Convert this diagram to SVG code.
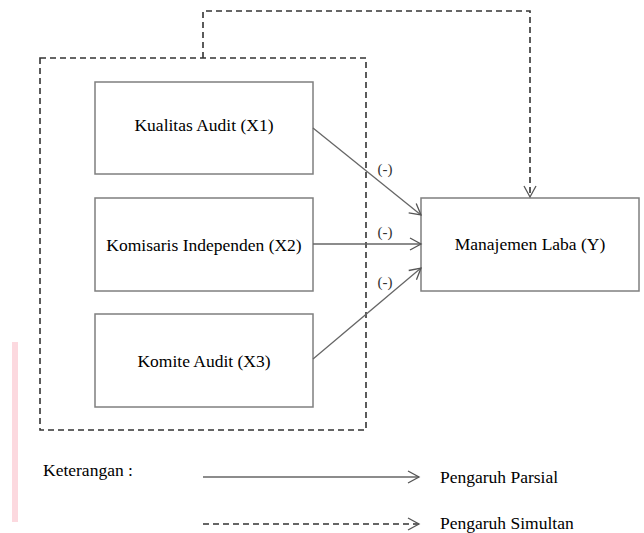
<svg xmlns="http://www.w3.org/2000/svg" width="644" height="533" viewBox="0 0 644 533">
<style>
.box{fill:#fff;stroke:#7f7f7f;stroke-width:1.5}
.lbl{font-family:'Liberation Serif','Times New Roman',Times,'DejaVu Serif',serif;font-size:17.5px;fill:#000}
.sign{font-family:'Liberation Serif','Times New Roman',Times,'DejaVu Serif',serif;font-size:15px;fill:#333}
.solid{fill:none;stroke:#666;stroke-width:1.3}
.dash{fill:none;stroke:#333;stroke-width:1.6;stroke-dasharray:6 4}
</style>
<defs>
<marker id="arr" markerUnits="userSpaceOnUse" markerWidth="14" markerHeight="14" viewBox="-12 -7 14 14" refX="0" refY="0" orient="auto">
<path d="M-11,-6 L0,0 L-11,6" fill="none" stroke="#555" stroke-width="1.3"/>
</marker>
</defs>
<rect x="12" y="342" width="6" height="180" fill="#fcd9df"/>
<g id="group-x">
<rect x="40" y="58" width="326" height="372" class="dash"/>
</g>
<g id="x1">
<rect class="box" x="95" y="82" width="218" height="92"/>
<text class="lbl" x="204" y="131" text-anchor="middle">Kualitas Audit (X1)</text>
</g>
<g id="x2">
<rect class="box" x="95" y="198" width="218" height="93"/>
<text class="lbl" x="204" y="251" text-anchor="middle">Komisaris Independen (X2)</text>
</g>
<g id="x3">
<rect class="box" x="95" y="314" width="218" height="93"/>
<text class="lbl" x="204" y="367" text-anchor="middle">Komite Audit (X3)</text>
</g>
<g id="y">
<rect class="box" x="421" y="198" width="218" height="93"/>
<text class="lbl" x="530" y="250" text-anchor="middle">Manajemen Laba (Y)</text>
</g>
<g id="connectors">
<path class="solid" d="M313,128 L421,215" marker-end="url(#arr)"/>
<path class="solid" d="M313,244 L421,244" marker-end="url(#arr)"/>
<path class="solid" d="M313,359 L421,268" marker-end="url(#arr)"/>
<path class="dash" d="M203,58 L203,11 L530,11 L530,197" marker-end="url(#arr)"/>
<text class="sign" x="385" y="174" text-anchor="middle">(-)</text>
<text class="sign" x="385" y="237" text-anchor="middle">(-)</text>
<text class="sign" x="385" y="287" text-anchor="middle">(-)</text>
</g>
<g id="legend">
<text class="lbl" x="43" y="476">Keterangan :</text>
<path class="solid" d="M203,477 L419,477" marker-end="url(#arr)"/>
<text class="lbl" x="440" y="483">Pengaruh Parsial</text>
<path class="dash" d="M203,524 L419,524" marker-end="url(#arr)"/>
<text class="lbl" x="440" y="529">Pengaruh Simultan</text>
</g>
</svg>
